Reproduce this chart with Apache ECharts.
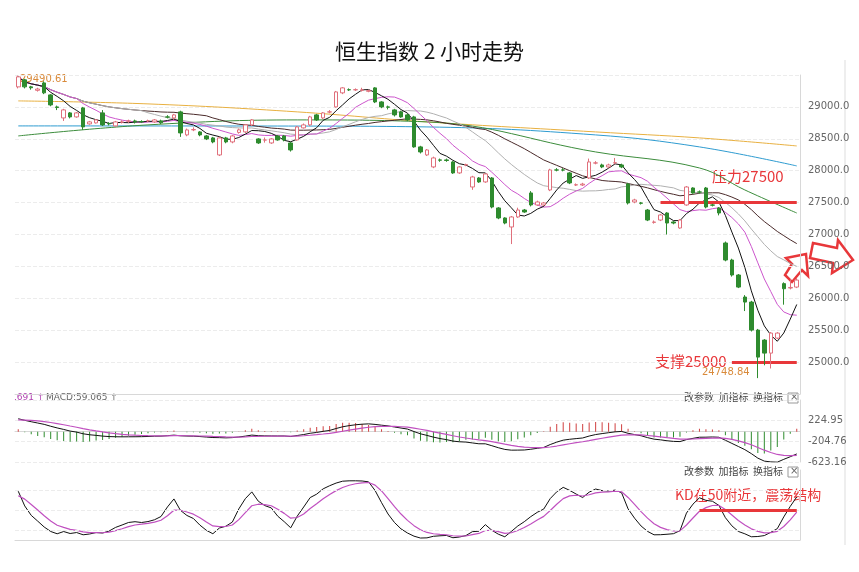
<!DOCTYPE html>
<html><head><meta charset="utf-8">
<script src="https://cdn.jsdelivr.net/npm/echarts@6/dist/echarts.min.js"></script>
<style>html,body{margin:0;padding:0;background:#fff}#c{width:859px;height:572px}</style>
</head><body><div id="c"></div>
<script>
// [open, close, low, high]
const candles = [
[29314,29471,29290,29490],[29424,29314,29290,29440],[29314,29300,29270,29330],[29260,29280,29240,29300],
[29376,29220,29200,29400],[29188,29031,29010,29200],[29000,28990,28950,29020],[28827,28953,28780,28970],
[28906,28843,28820,28920],[28843,28906,28830,28920],[28984,28686,28640,29000],[28733,28765,28720,28780],
[28749,28796,28740,28810],[28906,28718,28700,28950],[28740,28733,28710,28760],[28702,28765,28690,28780],
[28760,28765,28740,28790],[28775,28780,28750,28800],[28780,28765,28740,28800],[28770,28765,28750,28790],
[28780,28782,28760,28800],[28765,28796,28750,28810],[28780,28750,28730,28800],[28843,28840,28820,28870],
[28827,28875,28800,28890],[28922,28592,28530,28940],[28561,28639,28540,28660],[28640,28645,28620,28680],
[28608,28561,28540,28620],[28545,28498,28480,28560],[28514,28451,28430,28530],[28247,28514,28230,28530],
[28514,28451,28430,28530],[28451,28545,28430,28560],[28600,28640,28580,28660],[28608,28718,28590,28730],
[28718,28796,28700,28810],[28498,28435,28420,28510],[28480,28482,28440,28520],[28435,28498,28420,28510],
[28545,28482,28470,28560],[28545,28482,28460,28560],[28435,28325,28300,28450],[28482,28686,28470,28700],
[28671,28718,28660,28740],[28718,28843,28700,28860],[28875,28796,28780,28890],[28827,28906,28810,28920],
[28920,28922,28900,28950],[29000,29235,28990,29250],[29220,29298,29200,29310],[29270,29267,29250,29290],
[29267,29270,29250,29290],[29260,29267,29240,29300],[29245,29255,29230,29270],[29298,29078,29060,29310],
[29078,29000,28980,29090],[29000,28995,28960,29020],[28953,28875,28850,28970],[28922,28843,28830,28940],
[28875,28796,28780,28890],[28843,28373,28360,28860],[28373,28294,28270,28390],[28247,28325,28230,28340],
[28059,28200,28040,28220],[28169,28165,28140,28190],[28169,28160,28140,28190],[28137,27965,27950,28150],
[27965,28059,27950,28070],[28090,28095,28070,28110],[27745,27902,27700,27920],[27886,27824,27810,27900],
[27824,27949,27810,27960],[27886,27431,27410,27900],[27416,27259,27240,27430],[27259,27180,27160,27270],
[27118,27275,26850,27290],[27275,27384,27260,27420],[27384,27353,27340,27400],[27651,27463,27440,27680],
[27463,27510,27450,27530],[27463,27494,27450,27510],[27698,28012,27680,28030],[28012,28010,27990,28040],
[28012,28010,27990,28040],[27965,27808,27790,27980],[27776,27780,27760,27800],[27776,27790,27760,27810],
[27886,28137,27870,28190],[28120,28122,28100,28150],[28090,28059,28040,28110],[28059,28090,28040,28110],
[28122,28125,28100,28200],[28090,28059,28040,28110],[27792,27494,27470,27810],[27510,27541,27490,27560],
[27494,27490,27470,27510],[27384,27227,27210,27400],[27190,27196,27170,27220],[27227,27306,27210,27320],
[27337,27180,27000,27350],[27196,27180,27160,27210],[27102,27227,27090,27240],[27463,27745,27450,27760],
[27729,27651,27640,27740],[27667,27665,27640,27690],[27729,27431,27410,27745],[27463,27460,27440,27480],
[27416,27337,27300,27430],[26867,26600,26580,26890],[26600,26365,26340,26620],[26365,26176,26160,26380],
[26020,25941,25800,26050],[25941,25502,25480,25960],[25502,25078,24748.84,25520],[25345,25141,24950,25360],
[25141,25455,24900,25470],[25376,25455,25360,25470],[26230,26150,25900,26250],[26161,26170,26140,26300],
[26176,26286,26160,26320]
];
// long moving averages read at anchor candles (index -> value)
const ma60Pts  = [[0,28545],[20,28718],[43,28796],[63,28765],[89,28294],[105,28043],[112,27698],[120,27337]];
const ma120Pts = [[0,28702],[40,28700],[63,28686],[89,28561],[105,28373],[120,28075]];
const ma250Pts = [[0,29094],[20,29047],[43,28922],[63,28765],[89,28608],[105,28514],[120,28388]];
const priceTicks = [25000,25500,26000,26500,27000,27500,28000,28500,29000];
const macdTicks = ['-623.16','-204.76','224.95'];
const kdTicks = [20,50,80];
const macdStart = {dif:265, dea:240};
const kdStart = {k:72, d:68};

const n = candles.length;
const cats = candles.map((_, i) => String(i));
const closes = candles.map(c => c[1]);
function ma(p){return closes.map((_,i)=>{const s=Math.max(0,i-p+1);let t=0;for(let j=s;j<=i;j++)t+=closes[j];return +(t/(i-s+1)).toFixed(1);});}
function sparse(pts){const a=new Array(n).fill(null);pts.forEach(([i,v])=>a[i]=v);return a;}
let e12=closes[0], e26=closes[0]-macdStart.dif, dea=macdStart.dea;
const dif=[],deaA=[],hist=[];
closes.forEach((c,i)=>{ if(i>0){e12=e12*11/13+c*2/13;e26=e26*25/27+c*2/27;} const d=e12-e26; if(i>0)dea=dea*0.8+d*0.2; dif.push(+d.toFixed(2));deaA.push(+dea.toFixed(2));hist.push(+(2*(d-dea)).toFixed(2));});
let K=kdStart.k,D=kdStart.d;const kA=[],dA=[];
candles.forEach((c,i)=>{const s=Math.max(0,i-8);let lo=1e9,hi=-1e9;for(let j=s;j<=i;j++){lo=Math.min(lo,candles[j][2]);hi=Math.max(hi,candles[j][3]);}
 const rsv=hi>lo?(c[1]-lo)/(hi-lo)*100:50; K=K*2/3+rsv/3; D=D*2/3+K/3; kA.push(+K.toFixed(2)); dA.push(+D.toFixed(2));});

const chart = echarts.init(document.getElementById('c'));
const axGray='#d8d8d8', lab={color:'#666',fontSize:10,fontFamily:'DejaVu Sans'};
const split={show:true,lineStyle:{color:'#ececec',type:'dashed'}};
function xa(g){return {type:'category',data:cats,gridIndex:g,boundaryGap:true,axisLine:{show:true,lineStyle:{color:axGray}},axisTick:{show:false},axisLabel:{show:false},splitLine:{show:false}};}
const line=(name,data,color,w,x,y,extra)=>Object.assign({name,type:'line',data,xAxisIndex:x||0,yAxisIndex:y||0,symbol:'none',lineStyle:{color,width:w||1},itemStyle:{color},silent:true,z:3},extra||{});
const red='#e8373a';
chart.setOption({
 animation:false,
 title:{text:'恒生指数 2 小时走势',left:'center',top:36,textStyle:{fontSize:21,fontWeight:'normal',color:'#111',fontFamily:'Noto Sans CJK SC'}},
 grid:[{left:15,right:59,top:75,height:319},{left:15,right:59,top:400,height:62},{left:15,right:59,top:470,height:70}],
 xAxis:[xa(0),xa(1),xa(2)],
 yAxis:[
  {type:'value',gridIndex:0,position:'right',min:24500,max:29500,interval:500,axisLine:{show:true,lineStyle:{color:axGray}},axisTick:{show:false},splitLine:split,
   axisLabel:Object.assign({},lab,{margin:8,formatter:v=>priceTicks.includes(v)?v.toFixed(1):''})},
  {type:'value',gridIndex:1,position:'right',min:-623.16,max:650,interval:423.9,axisLine:{show:true,lineStyle:{color:axGray}},axisTick:{show:false},splitLine:split,
   axisLabel:Object.assign({},lab,{margin:8,formatter:(v)=>{const k=Math.round((v+623.16)/423.9);return macdTicks[k]||'';}})},
  {type:'value',gridIndex:2,position:'right',min:5,max:110,axisLine:{show:true,lineStyle:{color:axGray}},axisTick:{show:false},splitLine:{show:false},
   axisLabel:{show:false}}
 ],
 series:[
  line('MA250',sparse(ma250Pts),'#e8b040',1,0,0,{connectNulls:true,smooth:0.4}),
  line('MA120',sparse(ma120Pts),'#2e9bd0',1,0,0,{connectNulls:true,smooth:0.4}),
  line('MA60',sparse(ma60Pts),'#3c8c3c',1,0,0,{connectNulls:true,smooth:0.4}),
  line('MA30',ma(30),'#4a2a2a',1),
  line('MA20',ma(20),'#b0b0b0',1),
  line('MA10',ma(10),'#cc55cc',1),
  line('MA5',ma(5),'#111',1),
  {type:'candlestick',data:candles,barWidth:'62%',z:5,
   itemStyle:{color:'#ffffff',color0:'#2e8b2e',borderColor:'#e0707c',borderColor0:'#2e8b2e',borderWidth:1},
   markLine:{symbol:'none',silent:true,label:{show:false},lineStyle:{color:red,width:3,type:'solid'},
    data:[[{coord:['99',27500]},{coord:['120',27500]}],[{coord:['110',25000]},{coord:['120',25000]}]]}},
  {type:'bar',xAxisIndex:1,yAxisIndex:1,barWidth:1,data:hist.map(v=>({value:v,itemStyle:{color:v>=0?'#d04040':'#2e8b2e'}})),silent:true},
  line('DIF',dif,'#111',1,1,1),
  line('DEA',deaA,'#c050c0',1.2,1,1),
  {type:'line',xAxisIndex:2,yAxisIndex:2,data:kA,symbol:'none',lineStyle:{color:'#111',width:1},silent:true,
   markLine:{symbol:'none',silent:true,label:{show:false},data:kdTicks.map(v=>({yAxis:v,lineStyle:{color:'#ececec',type:'dashed',width:1}}))}},
  line('D',dA,'#c050c0',1.2,2,2),
  {type:'line',xAxisIndex:2,yAxisIndex:2,data:[],markLine:{symbol:'none',silent:true,label:{show:false},lineStyle:{color:red,width:3,type:'solid'},
    data:[[{coord:['105',50]},{coord:['120',50]}]]}}
 ],
 graphic:[
  {type:'text',left:20,top:74,style:{text:'29490.61',fill:'#d98a3a',font:'10px DejaVu Sans'}},
  {type:'text',left:702,top:367,style:{text:'24748.84',fill:'#d98a3a',font:'10px DejaVu Sans'}},
  {type:'text',left:712,top:169,style:{text:'压力27500',fill:red,font:'15px "Noto Sans CJK SC"'}},
  {type:'text',left:655,top:354,style:{text:'支撑25000',fill:red,font:'15px "Noto Sans CJK SC"'}},
  {type:'text',left:675,top:488,style:{text:'KD在50附近，震荡结构',fill:red,font:'14px "Noto Sans CJK SC"'}},
  {type:'text',left:14,top:393,style:{text:'.691 ↑',fill:'#b040b0',font:'9px DejaVu Sans'}},
  {type:'text',left:46,top:393,style:{text:'MACD:59.065 ↑',fill:'#666',font:'9px DejaVu Sans'}},
  {type:'text',left:684,top:392,style:{text:'改参数  加指标  换指标',fill:'#444',font:'10px "Noto Sans CJK SC"'}},
  {type:'rect',shape:{x:788,y:393,width:10,height:10},style:{fill:'#fff',stroke:'#999'}},
  {type:'text',left:790,top:392,style:{text:'×',fill:'#666',font:'10px DejaVu Sans'}},
  {type:'text',left:684,top:466,style:{text:'改参数  加指标  换指标',fill:'#444',font:'10px "Noto Sans CJK SC"'}},
  {type:'rect',shape:{x:788,y:467,width:10,height:10},style:{fill:'#fff',stroke:'#999'}},
  {type:'text',left:790,top:466,style:{text:'×',fill:'#666',font:'10px DejaVu Sans'}},
  {type:'line',shape:{x1:845,y1:60,x2:845,y2:545},style:{stroke:'#ddd'}},
  {type:'polygon',shape:{points:[[806,254],[808,276],[802,270],[792,282],[785,275],[792,264],[786,258]]},style:{fill:'#fff',stroke:red,lineWidth:2.5}},
  {type:'polygon',shape:{points:[[813,243],[837,248],[838,240],[853,260],[832,273],[833,263],[810,258]]},style:{fill:'#fff',stroke:red,lineWidth:2.5}}
 ]
});
</script></body></html>
